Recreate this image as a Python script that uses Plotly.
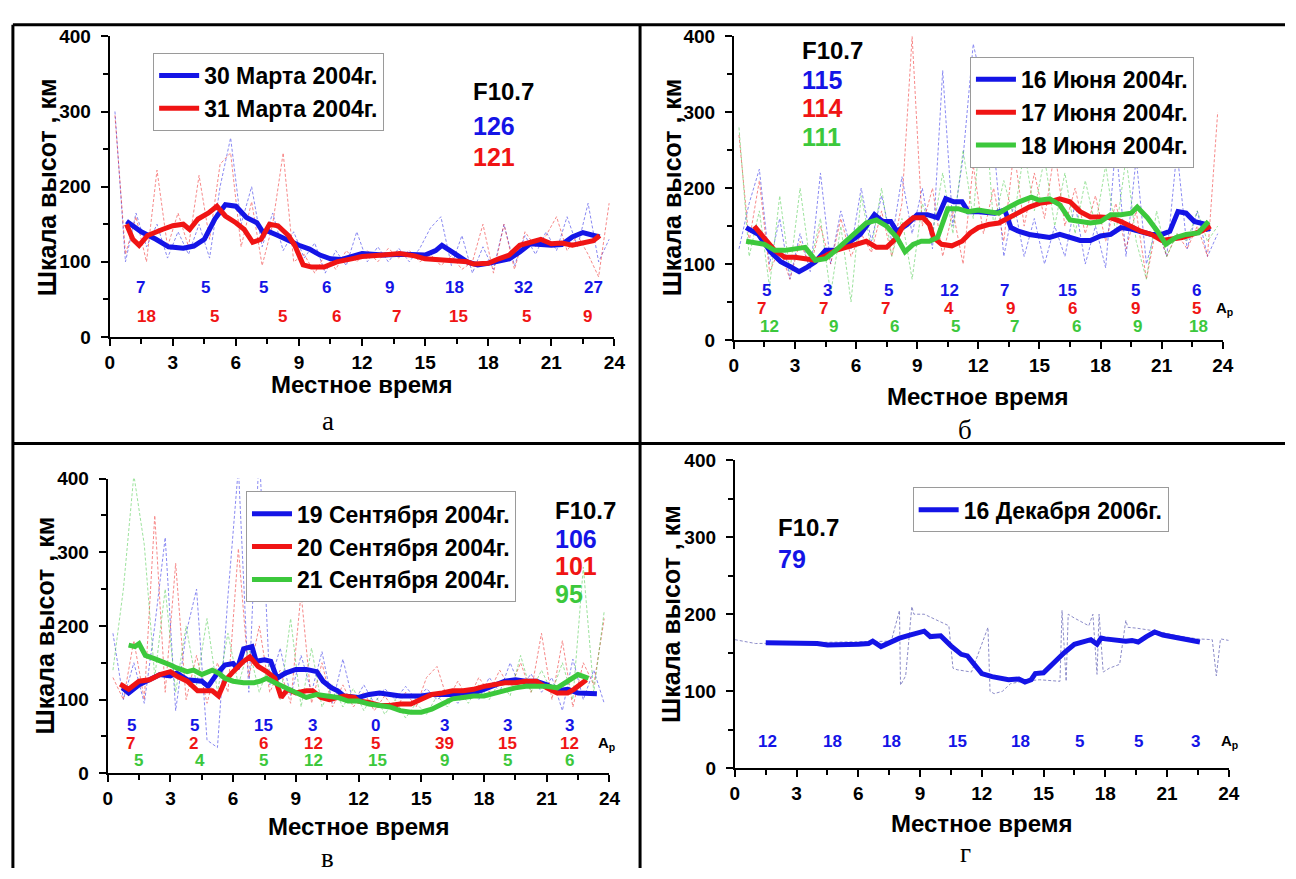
import plotly.graph_objects as go

W, H = 1296, 879
BLUE, RED, GREEN, GREY = "#1414e6", "#f01414", "#3cc83c", "#7878c0"
FONT = "Liberation Sans"
SERIF = "Liberation Serif"

RAW_T = [0.25, 0.75, 1.25, 1.75, 2.25, 2.75, 3.25, 3.75, 4.25, 4.75, 5.25, 5.75,
         6.25, 6.75, 7.25, 7.75, 8.25, 8.75, 9.25, 9.75, 10.25, 10.75, 11.25, 11.75,
         12.25, 12.75, 13.25, 13.75, 14.25, 14.75, 15.25, 15.75, 16.25, 16.75, 17.25, 17.75,
         18.25, 18.75, 19.25, 19.75, 20.25, 20.75, 21.25, 21.75, 22.25, 22.75, 23.25, 23.75]

# ---------------- panel а (March 2004) ----------------
A_LABELS = ["30 Марта 2004г.", "31 Марта 2004г."]
A_F107 = ["126", "121"]
A_BLUE_T = [0.8, 1.5, 2.2, 2.8, 3.5, 4.0, 4.5, 5.0, 5.5, 6.0, 6.5, 7.0, 7.3, 7.5, 8.0, 8.5, 9.0, 9.5, 10.0, 10.5,
            11.0, 12.0, 13.0, 14.0, 15.0, 15.5, 15.8, 16.3, 17.0, 17.5, 18.0, 19.0, 19.5, 20.0, 21.0, 21.5, 22.0, 22.5, 23.0, 23.3]
A_BLUE_V = [154, 140, 130, 120, 118, 121, 130, 157, 176, 174, 159, 152, 139, 141, 135, 128, 122, 117, 109, 104,
            103, 111, 109, 110, 109, 115, 122, 113, 100, 96, 98, 104, 113, 124, 122, 123, 133, 139, 136, 133]
A_RED_T = [0.8, 1.1, 1.4, 1.8, 2.5, 3.0, 3.5, 3.8, 4.2, 4.7, 5.1, 5.5, 6.0, 6.4, 6.8, 7.2, 7.6, 8.0, 8.5, 8.8,
           9.2, 9.6, 10.2, 10.8, 11.5, 12.0, 13.0, 13.8, 14.5, 15.0, 16.0, 17.0, 17.3, 18.0, 18.5, 19.0, 19.5, 20.0,
           20.5, 21.0, 21.5, 22.0, 22.5, 23.0, 23.3]
A_RED_V = [150, 130, 122, 135, 143, 148, 150, 143, 157, 165, 174, 161, 152, 143, 126, 130, 150, 148, 135, 122,
           96, 93, 93, 100, 104, 107, 109, 111, 108, 104, 102, 100, 97, 98, 104, 109, 122, 126,
           130, 124, 125, 122, 125, 128, 135]
A_BLUE_RAW = [300, 100, 165, 120, 150, 105, 140, 110, 150, 105, 200, 265, 150, 200, 120, 165, 115, 140, 105, 125,
              85, 115, 95, 140, 100, 120, 100, 118, 100, 118, 145, 160, 95, 135, 85, 120, 90, 150, 95, 135,
              110, 140, 115, 160, 120, 178, 100, 130]
A_RED_RAW = [295, 110, 160, 100, 222, 120, 165, 120, 215, 130, 230, 245, 120, 180, 95, 150, 245, 100, 110, 85,
             110, 90, 115, 100, 115, 100, 118, 105, 115, 100, 110, 95, 108, 90, 100, 150, 85, 150, 90, 140,
             120, 135, 160, 115, 135, 110, 80, 178]
A_AP_BLUE_X = [1.46, 4.56, 7.3, 10.3, 13.3, 16.4, 19.7, 23.0]
A_AP_BLUE = ["7", "5", "5", "6", "9", "18", "32", "27"]
A_AP_RED_X = [1.75, 5.0, 8.2, 10.8, 13.65, 16.6, 19.8, 22.7]
A_AP_RED = ["18", "5", "5", "6", "7", "15", "5", "9"]

# ---------------- panel б (June 2004) ----------------
B_LABELS = ["16 Июня 2004г.", "17 Июня 2004г.", "18 Июня 2004г."]
B_F107 = ["115", "114", "111"]
B_BLUE_T = [0.6, 1.2, 1.8, 2.3, 2.8, 3.2, 3.6, 4.0, 4.5, 5.0, 5.5, 6.2, 6.9, 7.3, 7.7, 8.0, 8.5, 9.0, 9.5, 10.0,
            10.4, 10.8, 11.2, 11.5, 12.0, 12.8, 13.3, 13.6, 14.0, 14.5, 15.0, 15.5, 16.0, 16.5, 17.0, 17.5, 18.0,
            18.5, 19.0, 19.5, 20.0, 20.5, 21.0, 21.4, 21.8, 22.2, 22.6, 23.2, 23.3]
B_BLUE_V = [148, 139, 116, 103, 96, 90, 96, 103, 118, 118, 126, 139, 165, 156, 156, 143, 152, 165, 165, 161,
            186, 182, 182, 169, 169, 167, 171, 148, 143, 139, 137, 135, 139, 135, 131, 131, 137,
            139, 148, 146, 143, 139, 139, 143, 169, 167, 156, 152, 143]
B_RED_T = [1.0, 1.5, 2.0, 2.5, 3.0, 3.5, 4.0, 4.5, 5.0, 5.5, 6.0, 6.5, 7.0, 7.5, 8.0, 8.3, 8.8, 9.3, 9.6, 9.8,
           10.2, 10.7, 11.2, 11.6, 12.0, 12.5, 13.0, 13.5, 14.0, 14.5, 15.0, 15.5, 16.0, 16.5, 17.0, 17.5, 18.0,
           18.5, 19.0, 19.5, 20.0, 20.5, 21.0, 21.5, 22.0, 22.5, 23.0, 23.4]
B_RED_V = [150, 135, 118, 109, 109, 107, 105, 111, 118, 122, 126, 130, 122, 122, 135, 150, 161, 161, 152, 135,
           126, 124, 130, 141, 148, 152, 154, 161, 167, 175, 180, 182, 186, 182, 169, 162, 162,
           161, 156, 150, 143, 139, 131, 133, 135, 139, 144, 150]
B_GREEN_T = [0.6, 1.0, 1.5, 2.0, 2.5, 3.0, 3.5, 4.0, 4.5, 5.0, 5.5, 6.0, 6.5, 7.0, 7.5, 8.0, 8.4, 8.8, 9.2, 9.6,
             10.0, 10.5, 11.0, 11.5, 12.0, 12.5, 13.0, 13.5, 14.0, 14.6, 15.0, 15.5, 16.0, 16.5, 17.0, 17.5, 18.0,
             18.5, 19.0, 19.5, 19.8, 20.3, 20.8, 21.2, 21.7, 22.2, 22.8, 23.3]
B_GREEN_V = [130, 128, 126, 118, 118, 120, 122, 105, 107, 118, 130, 143, 154, 158, 150, 135, 116, 126, 130, 130,
             135, 173, 173, 169, 171, 169, 167, 175, 182, 188, 184, 186, 178, 158, 156, 154, 156,
             165, 165, 167, 175, 161, 143, 126, 135, 139, 141, 156]
B_BLUE_RAW = [120, 180, 225, 100, 160, 80, 140, 90, 220, 100, 170, 120, 200, 130, 190, 130, 215, 140, 200, 120,
              355, 150, 240, 390, 330, 260, 110, 180, 110, 160, 100, 150, 110, 180, 100, 150, 95, 260, 110, 240,
              100, 150, 110, 250, 120, 170, 110, 140]
B_RED_RAW = [270, 130, 210, 90, 120, 80, 130, 95, 150, 100, 160, 110, 140, 115, 170, 110, 180, 400, 150, 200,
             110, 170, 100, 230, 140, 200, 130, 250, 150, 220, 160, 250, 150, 200, 140, 190, 130, 180, 120, 170,
             80, 150, 110, 140, 120, 150, 110, 300]
B_GREEN_RAW = [280, 110, 170, 70, 190, 90, 200, 100, 160, 60, 150, 50, 190, 120, 200, 110, 160, 80, 180, 140,
               220, 140, 250, 160, 340, 150, 210, 160, 250, 170, 240, 150, 220, 140, 210, 150, 230, 140, 240, 130,
               80, 170, 110, 140, 130, 170, 130, 150]
B_AP_BLUE_X = [1.6, 4.6, 7.6, 10.6, 13.3, 16.4, 19.7, 22.7]
B_AP_BLUE = ["5", "3", "5", "12", "7", "15", "5", "6"]
B_AP_RED_X = [1.35, 4.4, 7.45, 10.56, 13.6, 16.6, 19.7, 22.7]
B_AP_RED = ["7", "7", "7", "4", "9", "6", "9", "5"]
B_AP_GREEN_X = [1.75, 4.9, 7.9, 10.9, 13.8, 16.8, 19.8, 22.8]
B_AP_GREEN = ["12", "9", "6", "5", "7", "6", "9", "18"]

# ---------------- panel в (September 2004) ----------------
C_LABELS = ["19 Сентября 2004г.", "20 Сентября 2004г.", "21 Сентября 2004г."]
C_F107 = ["106", "101", "95"]
C_BLUE_T = [0.7, 1.0, 1.5, 2.0, 2.5, 3.0, 3.3, 3.8, 4.2, 4.5, 4.8, 5.2, 5.6, 6.0, 6.2, 6.5, 6.9, 7.1, 7.5, 7.8,
            8.1, 8.5, 9.0, 9.5, 10.0, 10.3, 10.7, 11.0, 11.3, 11.7, 12.0, 12.5, 13.0, 13.5, 14.0, 15.0, 15.5, 16.0,
            16.5, 17.0, 17.5, 18.0, 18.5, 19.0, 19.5, 20.0, 20.5, 21.0, 21.5, 22.0, 22.5, 23.0, 23.4]
C_BLUE_V = [116, 109, 120, 127, 134, 132, 136, 127, 125, 125, 118, 134, 147, 149, 142, 169, 172, 152, 154, 152,
            129, 136, 141, 141, 138, 125, 116, 112, 105, 103, 103, 107, 109, 107, 105, 105, 107, 107,
            107, 109, 109, 114, 120, 125, 127, 125, 125, 120, 112, 114, 109, 109, 108]
C_RED_T = [0.6, 1.0, 1.5, 2.0, 2.5, 3.0, 3.3, 3.8, 4.3, 5.0, 5.3, 5.6, 6.0, 6.5, 6.8, 7.2, 7.6, 8.0, 8.3, 8.6,
           9.0, 9.5, 9.8, 10.2, 10.6, 11.0, 11.3, 11.8, 12.0, 12.5, 13.0, 13.5, 14.0, 14.5, 15.0, 15.5, 16.0,
           16.5, 17.0, 17.5, 18.0, 18.5, 19.0, 19.5, 20.0, 20.5, 21.0, 21.5, 22.0, 22.3, 22.6, 22.9]
C_RED_V = [121, 114, 125, 127, 134, 138, 132, 125, 112, 112, 105, 125, 138, 152, 158, 145, 138, 129, 103, 114,
           109, 112, 112, 103, 100, 103, 105, 103, 98, 96, 92, 92, 94, 94, 101, 107, 109,
           112, 112, 114, 118, 120, 123, 123, 125, 125, 116, 109, 109, 114, 120, 127]
C_GREEN_T = [1.0, 1.3, 1.5, 1.8, 2.2, 2.6, 3.0, 3.3, 3.8, 4.1, 4.5, 5.0, 5.3, 5.6, 6.0, 6.5, 7.0, 7.3, 7.6, 8.0,
             8.5, 9.0, 9.5, 10.0, 10.5, 11.0, 11.5, 12.0, 12.5, 13.0, 13.5, 14.0, 14.5, 15.0, 15.5, 16.0, 16.5,
             17.0, 17.5, 18.0, 18.5, 19.0, 19.5, 20.0, 20.5, 21.0, 21.5, 22.0, 22.5, 23.0]
C_GREEN_V = [174, 172, 176, 160, 156, 152, 147, 143, 138, 140, 134, 140, 136, 129, 125, 123, 123, 125, 129, 123,
             116, 109, 103, 107, 105, 103, 98, 98, 94, 92, 90, 85, 83, 83, 87, 94, 101,
             103, 105, 105, 109, 112, 116, 118, 118, 118, 116, 125, 134, 129]
C_BLUE_RAW = [190, 100, 150, 95, 200, 320, 85, 190, 250, 45, 35, 240, 415, 110, 440, 120, 170, 105, 160, 110,
              165, 95, 155, 95, 120, 95, 115, 100, 118, 100, 115, 100, 110, 95, 115, 100, 130, 110, 150, 115,
              135, 110, 130, 85, 155, 100, 140, 95]
C_RED_RAW = [130, 100, 180, 100, 350, 110, 285, 100, 160, 95, 150, 110, 305, 130, 200, 110, 140, 95, 245, 95,
             150, 90, 120, 90, 110, 85, 105, 85, 110, 90, 130, 145, 100, 125, 100, 130, 110, 140, 115, 150,
             110, 190, 100, 180, 90, 150, 120, 210]
C_GREEN_RAW = [140, 250, 405, 310, 130, 250, 110, 200, 120, 210, 110, 190, 120, 170, 110, 150, 100, 210, 90, 170,
               90, 120, 90, 115, 85, 110, 80, 100, 75, 95, 80, 105, 90, 115, 95, 120, 100, 125, 105, 160,
               110, 140, 110, 150, 100, 280, 110, 220]
C_AP_BLUE_X = [1.15, 4.16, 7.45, 9.8, 12.8, 16.1, 19.1, 22.1]
C_AP_BLUE = ["5", "5", "15", "3", "0", "3", "3", "3"]
C_AP_RED_X = [1.1, 4.1, 7.45, 9.85, 12.8, 16.1, 19.1, 22.1]
C_AP_RED = ["7", "2", "6", "12", "5", "39", "15", "12"]
C_AP_GREEN_X = [1.45, 4.4, 7.45, 9.85, 12.9, 16.1, 19.1, 22.1]
C_AP_GREEN = ["5", "4", "5", "12", "15", "9", "5", "6"]

# ---------------- panel г (December 2006) ----------------
D_LABELS = ["16 Декабря 2006г."]
D_F107 = ["79"]
D_T = [1.5, 3.0, 4.0, 4.5, 5.0, 6.0, 6.5, 6.7, 7.1, 7.5, 8.0, 8.5, 9.0, 9.2, 9.5, 10.0, 10.5, 11.0, 11.3, 11.7,
       12.0, 12.5, 13.0, 13.3, 13.8, 14.1, 14.4, 14.6, 15.0, 15.5, 16.0, 16.5, 17.0, 17.3, 17.6, 17.8, 18.0,
       18.5, 19.0, 19.3, 19.6, 20.0, 20.4, 20.8, 21.2, 21.7, 22.0, 22.6]
D_V = [163, 163, 162, 160, 160, 161, 162, 165, 158, 163, 169, 173, 177, 178, 171, 172, 159, 148, 146, 134,
       123, 119, 117, 115, 116, 112, 115, 123, 124, 138, 150, 161, 164, 167, 161, 169, 168,
       166, 165, 166, 164, 171, 177, 173, 171, 169, 166, 164]
D_RAW_T = [0.0, 1.0, 7.6, 8.0, 8.05, 8.3, 8.6, 8.7, 9.2, 10.0, 10.4, 10.6, 10.8, 11.5, 12.3, 12.4, 12.6, 13.0,
           13.4, 14.0, 14.8, 15.8, 15.9, 16.1, 16.2, 16.5, 17.2, 17.4, 17.6, 17.7, 17.9, 18.2, 18.7, 19.0, 19.1,
           19.5, 20.0, 20.5, 21.5, 22.5, 23.2, 23.4, 23.6, 24.0]
D_RAW_V = [167, 162, 165, 205, 108, 120, 210, 200, 200, 190, 185, 130, 128, 125, 183, 100, 97, 100,
           110, 113, 115, 113, 205, 113, 200, 195, 185, 200, 122, 200, 125, 130, 135, 192, 183,
           182, 180, 178, 172, 168, 167, 120, 168, 166]
D_AP_X = [1.6, 4.75, 7.6, 10.8, 13.9, 16.75, 19.6, 22.4]
D_AP = ["12", "18", "18", "15", "18", "5", "5", "3"]

X_TITLE = "Местное время"
Y_TITLE = "Шкала высот , км"

# ---------------- layout geometry (pixels) ----------------
# panel: (axis id, x(0h), x(24h), y(400), y(0))
PANELS = [("", 106, 617, 27, 335), ("2", 738, 1233, 27, 338),
          ("3", 104, 612, 480, 782), ("4", 739, 1239, 461, 777)]


def px(x):
    return x / W


def py(y):
    return 1 - y / H


fig = go.Figure()
layout = dict(width=W, height=H, margin=dict(l=0, r=0, t=0, b=0),
              paper_bgcolor="white", plot_bgcolor="white", showlegend=True)

tickfont = dict(family=FONT, size=19, color="black", weight="bold")
for aid, x0, x1, yt, yb in PANELS:
    layout["xaxis" + aid] = dict(
        domain=[px(x0), px(x1)], range=[0, 24], anchor="y" + aid, tickmode="linear", tick0=0, dtick=3,
        showline=True, linecolor="black", linewidth=2, ticks="outside", ticklen=7, tickwidth=2,
        tickcolor="black", showgrid=False, zeroline=False, tickfont=tickfont, ticklabelstandoff=0,
        minor=dict(tick0=0, dtick=1.5, ticks="outside", ticklen=5, tickwidth=2, tickcolor="black",
                   showgrid=False),
        fixedrange=True)
    layout["yaxis" + aid] = dict(
        domain=[py(yb), py(yt)], range=[0, 400], anchor="x" + aid, tickmode="linear", tick0=0, dtick=100,
        showline=True, linecolor="black", linewidth=2, ticks="outside", ticklen=7, tickwidth=2,
        tickcolor="black", showgrid=False, zeroline=False, tickfont=tickfont, ticklabelstandoff=6,
        minor=dict(tick0=0, dtick=50, ticks="outside", ticklen=5, tickwidth=2, tickcolor="black",
                   showgrid=False),
        fixedrange=True)


def add_raw(aid, t, v, color, opacity=0.5):
    fig.add_trace(go.Scatter(x=t, y=v, mode="lines", xaxis="x" + aid, yaxis="y" + aid,
                             line=dict(color=color, width=1, dash="3px,2px"), opacity=opacity,
                             showlegend=False, hoverinfo="skip"))


def add_main(aid, t, v, color, name, legend):
    fig.add_trace(go.Scatter(x=t, y=v, mode="lines", xaxis="x" + aid, yaxis="y" + aid,
                             line=dict(color=color, width=5), name=name, legend=legend))


# raw (dashed) series first
add_raw("", RAW_T, A_BLUE_RAW, BLUE)
add_raw("", RAW_T, A_RED_RAW, RED)
add_raw("2", RAW_T, B_BLUE_RAW, BLUE)
add_raw("2", RAW_T, B_RED_RAW, RED)
add_raw("2", RAW_T, B_GREEN_RAW, GREEN)
add_raw("3", RAW_T, C_BLUE_RAW, BLUE)
add_raw("3", RAW_T, C_RED_RAW, RED)
add_raw("3", RAW_T, C_GREEN_RAW, GREEN)
add_raw("4", D_RAW_T, D_RAW_V, GREY, 0.85)

# smoothed thick series
add_main("", A_BLUE_T, A_BLUE_V, BLUE, A_LABELS[0], "legend")
add_main("", A_RED_T, A_RED_V, RED, A_LABELS[1], "legend")
add_main("2", B_BLUE_T, B_BLUE_V, BLUE, B_LABELS[0], "legend2")
add_main("2", B_RED_T, B_RED_V, RED, B_LABELS[1], "legend2")
add_main("2", B_GREEN_T, B_GREEN_V, GREEN, B_LABELS[2], "legend2")
add_main("3", C_BLUE_T, C_BLUE_V, BLUE, C_LABELS[0], "legend3")
add_main("3", C_RED_T, C_RED_V, RED, C_LABELS[1], "legend3")
add_main("3", C_GREEN_T, C_GREEN_V, GREEN, C_LABELS[2], "legend3")
add_main("4", D_T, D_V, BLUE, D_LABELS[0], "legend4")

legfont = dict(family=FONT, size=23, color="black", weight="bold")
LEG_POS = [("legend", 150, 44), ("legend2", 977, 48), ("legend3", 244, 493), ("legend4", 919, 489)]
for lid, lx, ly in LEG_POS:
    layout[lid] = dict(x=px(lx), y=py(ly), xref="paper", yref="paper", xanchor="left", yanchor="top",
                       bgcolor="white", bordercolor="#9a9a9a", borderwidth=1, font=legfont,
                       itemwidth=40, tracegroupgap=0)

ann = []


def txt(aid, x, y, text, color, size, anchor="center", bold=True, family=FONT):
    ann.append(dict(xref="x" + aid, yref="y" + aid, x=x, y=y, text=text, showarrow=False,
                    xanchor=anchor, yanchor="middle",
                    font=dict(family=family, size=size, color=color, weight="bold" if bold else "normal")))


def ap_row(aid, xs, labels, y, color):
    for x, s in zip(xs, labels):
        txt(aid, x, y, s, color, 17)


ap_row("", A_AP_BLUE_X, A_AP_BLUE, 66, BLUE)
ap_row("", A_AP_RED_X, A_AP_RED, 27, RED)
ap_row("2", B_AP_BLUE_X, B_AP_BLUE, 65, BLUE)
ap_row("2", B_AP_RED_X, B_AP_RED, 42, RED)
ap_row("2", B_AP_GREEN_X, B_AP_GREEN, 18, GREEN)
ap_row("3", C_AP_BLUE_X, C_AP_BLUE, 65, BLUE)
ap_row("3", C_AP_RED_X, C_AP_RED, 41, RED)
ap_row("3", C_AP_GREEN_X, C_AP_GREEN, 18, GREEN)
ap_row("4", D_AP_X, D_AP, 35, BLUE)
for aid, x, y in [("2", 23.55, 42), ("3", 23.35, 41), ("4", 23.55, 35)]:
    txt(aid, x, y, "A<sub>p</sub>", "black", 15, anchor="left")

# F10.7 blocks
F_COLORS = [BLUE, RED, GREEN]
F_BLOCKS = [("", 17.2, [326, 281, 240], A_F107), ("2", 3.25, [381, 342, 306, 268], B_F107),
            ("3", 21.3, [356, 318, 281, 244], C_F107), ("4", 2.0, [313, 272], D_F107)]
for aid, x, ys, vals in F_BLOCKS:
    txt(aid, x, ys[0], "F10.7", "black", 24, anchor="left")
    for i, v in enumerate(vals):
        txt(aid, x, ys[i + 1], v, F_COLORS[i], 25, anchor="left")


def ptxt(x, y, text, size, family=FONT, bold=True, angle=0):
    ann.append(dict(xref="paper", yref="paper", x=px(x), y=py(y), text=text, showarrow=False,
                    xanchor="center", yanchor="middle", textangle=angle,
                    font=dict(family=family, size=size, color="black", weight="bold" if bold else "normal")))


# axis titles
for xt, yt in [(361, 384), (985, 396), (358, 836), (989, 833)]:
    ptxt(xt, yt, X_TITLE, 24)
for xt, yt in [(42, 181), (675, 182), (40, 631), (675, 619)]:
    ptxt(xt, yt, Y_TITLE, 25, angle=-90)
# panel letters
for xt, yt, s in [(327, 421, "а"), (972, 430, "б"), (327, 869, "в"), (972, 864, "г")]:
    ptxt(xt, yt, s, 27, family=SERIF, bold=False)

layout["annotations"] = ann

# table borders
shapes = []
for x0, y0, x1, y1 in [(8, 15, 1296, 15), (8, 15, 8, 879), (643, 15, 643, 879), (8, 444, 1296, 444)]:
    shapes.append(dict(type="line", xref="paper", yref="paper", x0=px(x0), y0=py(y0), x1=px(x1), y1=py(y1),
                       line=dict(color="black", width=3)))
layout["shapes"] = shapes

fig.update_layout(**layout)
fig.write_html("out.html")
